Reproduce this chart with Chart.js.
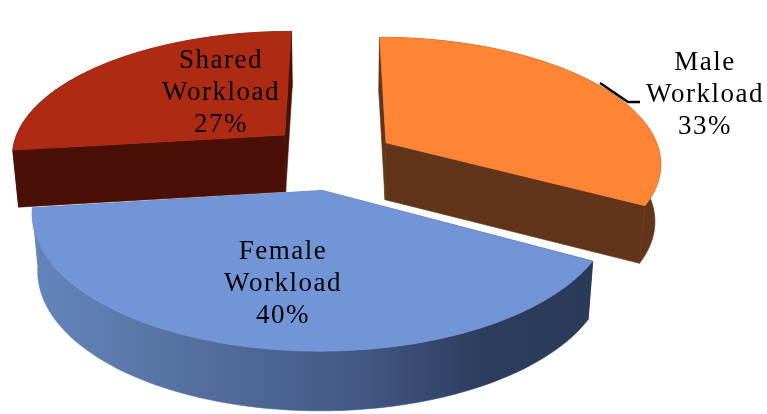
<!DOCTYPE html>
<html><head><meta charset="utf-8">
<style>html,body{margin:0;padding:0;background:#fff}#w{width:767px;height:414px;position:relative}</style>
<script src="https://cdn.jsdelivr.net/npm/chart.js@4"></script>
</head><body><div id="w"><canvas id="c" width="767" height="414"></canvas></div>
<script>
const categories = ["Male Workload", "Female Workload", "Shared Workload"];
const labelLines = [["Male","Workload"],["Female","Workload"],["Shared","Workload"]];
const shareValues = [33, 40, 27];
const explodePercent = [21, 27, 26];
const topColors = ["#FF8535", "#7295D8", "#AE2A12"];
const wallColors = ["#62341A", null, "#4A0F07"];

// projection of the pie plane onto the screen
const view = {cx:337, cy:156, rx:275, ry:125, k:0.15, depth:57, shrink:0.982};
const labelAt = [[705,62.5],[283,251.5],[221,61]];
const lineGap = 32;

function project(u, v, low){
  const w = 1/(1 - view.k*v);
  let x = view.cx + view.rx*u*w;
  let y = view.cy + view.ry*v*w;
  if(low){ x = view.cx + (x-view.cx)*view.shrink; y += view.depth*(1+(w-1)*0.2); }
  return [x,y];
}
function poly(ctx, pts, fill){
  ctx.beginPath();
  pts.forEach((p,i)=> i? ctx.lineTo(p[0],p[1]) : ctx.moveTo(p[0],p[1]));
  ctx.closePath();
  ctx.fillStyle = fill; ctx.strokeStyle = fill; ctx.lineWidth = .6;
  ctx.fill(); ctx.stroke();
}
const pie3d = {
  id:'pie3d',
  beforeDatasetsDraw(chart){
    const ctx = chart.ctx, arcs = chart.getDatasetMeta(0).data;
    // back slices first, front slice last
    const order = arcs.map((a,i)=>i).sort((a,b)=>{
      const m=i=>(arcs[i].startAngle+arcs[i].endAngle)/2;
      return Math.sin(m(a))-Math.sin(m(b));
    });
    ctx.save();
    order.forEach(i=>{
      const a = arcs[i], off = a.options.offset/100;
      const mid = (a.startAngle+a.endAngle)/2;
      const ou = Math.cos(mid)*off, ov = Math.sin(mid)*off;
      const n = 80, rim = [];
      for(let s=0;s<=n;s++){
        const t = a.startAngle+(a.endAngle-a.startAngle)*s/n;
        rim.push([ou+Math.cos(t), ov+Math.sin(t)]);
      }
      const hi = rim.map(p=>project(p[0],p[1],false));
      const lo = rim.map(p=>project(p[0],p[1],true));
      const cHi = project(ou,ov,false), cLo = project(ou,ov,true);
      let wall = wallColors[i];
      if(!wall){
        const xs = hi.map(p=>p[0]);
        const g = ctx.createLinearGradient(Math.min(...xs),0,Math.max(...xs),0);
        g.addColorStop(0,"#6485BC"); g.addColorStop(.3,"#546F9E");
        g.addColorStop(.6,"#415682"); g.addColorStop(.8,"#2D3D5E"); g.addColorStop(1,"#2B3A58");
        wall = g;
      }
      poly(ctx,[cHi,hi[0],lo[0],cLo],wall);
      poly(ctx,[cHi,hi[n],lo[n],cLo],wall);
      poly(ctx,hi.concat(lo.slice().reverse()),wall);
      poly(ctx,[cHi].concat(hi),a.options.backgroundColor);
    });
    // leader line of the outside label
    ctx.beginPath(); ctx.moveTo(600,83); ctx.lineTo(628,102); ctx.lineTo(640,102);
    ctx.strokeStyle="#000"; ctx.lineWidth=2.4; ctx.stroke();
    // labels
    const total = shareValues.reduce((s,v)=>s+v,0);
    ctx.fillStyle="#000"; ctx.font='27px "Liberation Serif"'; ctx.textAlign="center"; ctx.textBaseline="middle";
    if('letterSpacing' in ctx) ctx.letterSpacing="1.5px";
    arcs.forEach((a,i)=>{
      const lines = labelLines[i].concat([Math.round(shareValues[i]/total*100)+"%"]);
      lines.forEach((t,j)=>ctx.fillText(t,labelAt[i][0],labelAt[i][1]+j*lineGap));
    });
    ctx.restore();
    return false;
  }
};
new Chart(document.getElementById('c'),{
  type:'pie',
  data:{labels:categories,datasets:[{data:shareValues,backgroundColor:topColors,offset:explodePercent,borderWidth:0}]},
  options:{responsive:false,animation:false,events:[],plugins:{legend:{display:false},tooltip:{enabled:false}}},
  plugins:[pie3d]
});
</script></body></html>
